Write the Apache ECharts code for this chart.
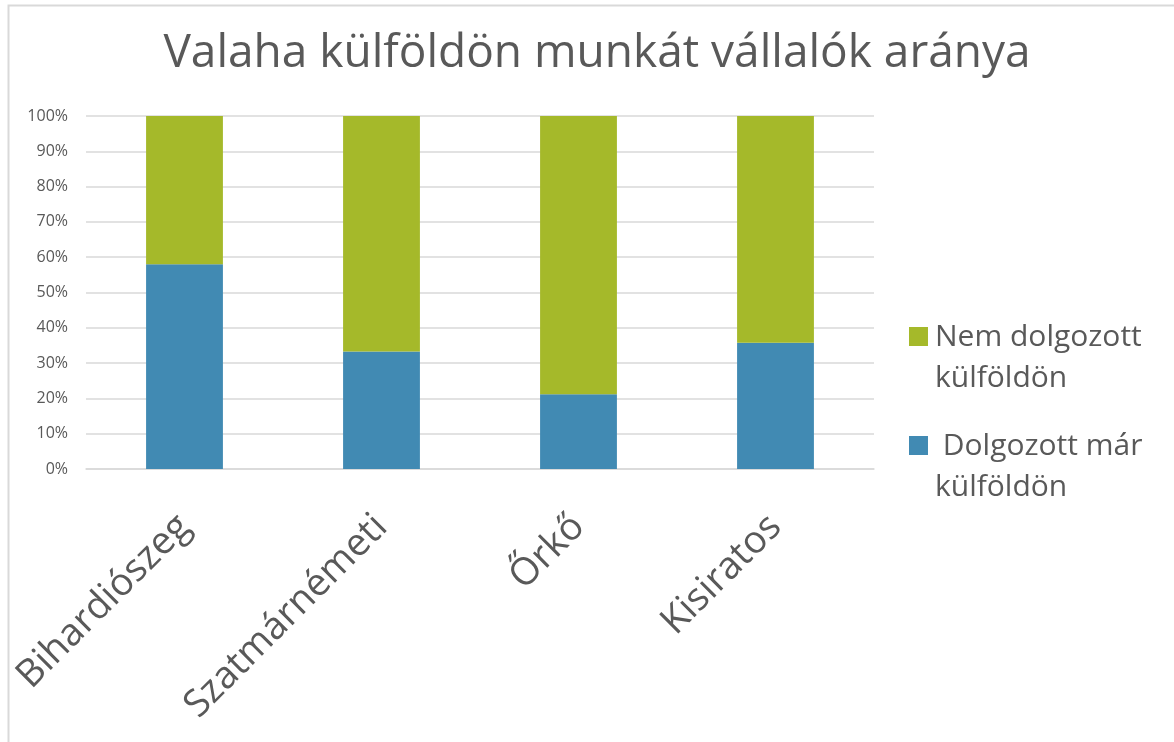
<!DOCTYPE html>
<html><head><meta charset="utf-8">
<script src="https://cdn.jsdelivr.net/npm/echarts@6/dist/echarts.min.js"></script>
<style>html,body{margin:0;padding:0;background:#fff}#c{width:1174px;height:742px}</style>
</head><body><div id="c"></div>
<script>
const categories = ['Bihardiószeg', 'Szatmárnémeti', 'Őrkő', 'Kisiratos'];
const dolgozott = [58, 33.3, 21.2, 35.8];
const nemDolgozott = [42, 66.7, 78.8, 64.2];
const seriesNames = [' Dolgozott már\nkülföldön', 'Nem dolgozott\nkülföldön'];
const yTicks = [0, 10, 20, 30, 40, 50, 60, 70, 80, 90, 100];

const font = "'Open Sans', 'Noto Sans', sans-serif";
const chart = echarts.init(document.getElementById('c'), null, {renderer: 'canvas'});
chart.setOption({
  animation: false,
  backgroundColor: '#fff',
  title: {
    text: 'Valaha külföldön munkát vállalók aránya',
    left: 592, top: 26, textAlign: 'center',
    textStyle: {fontFamily: font, fontSize: 46, fontWeight: 'normal', color: '#595959'}
  },
  graphic: [{
    type: 'polyline', silent: true,
    shape: {points: [[8.5, 742], [8.5, 5.5], [1174, 5.5]]},
    style: {stroke: '#D9D9D9', lineWidth: 2, fill: null}
  }],
  legend: {
    orient: 'vertical', left: 904, top: 312, itemGap: 27,
    data: [seriesNames[1], seriesNames[0]],
    icon: 'path://M0 0H0.05V0.05H0Z M0 9H19V28H0Z M0 80H0.05V80.05H0Z',
    itemWidth: 19, itemHeight: 80,
    textStyle: {fontFamily: font, fontSize: 30, color: '#595959', lineHeight: 41, padding: [0,0,0,2]}
  },
  grid: {left: 86, right: 300, top: 116, bottom: 273, containLabel: false},
  xAxis: {
    type: 'category', data: categories,
    axisLine: {lineStyle: {color: '#D9D9D9', width: 1.5}},
    axisTick: {show: false},
    axisLabel: {rotate: 45, margin: 52, fontFamily: font, fontSize: 38, color: '#595959'}
  },
  yAxis: {
    type: 'value', min: 0, max: 100, interval: 10,
    axisLine: {show: false}, axisTick: {show: false},
    splitLine: {lineStyle: {color: '#D9D9D9', width: 1.5}},
    axisLabel: {fontFamily: font, fontSize: 16, color: '#595959', margin: 18,
      formatter: v => yTicks.includes(v) ? v + '%' : ''}
  },
  series: [
    {name: seriesNames[0], type: 'bar', stack: 't', data: dolgozott, barWidth: '39%',
     itemStyle: {color: '#418AB3'}},
    {name: seriesNames[1], type: 'bar', stack: 't', data: nemDolgozott, barWidth: '39%',
     itemStyle: {color: '#A5B92A'}}
  ]
});
</script></body></html>
